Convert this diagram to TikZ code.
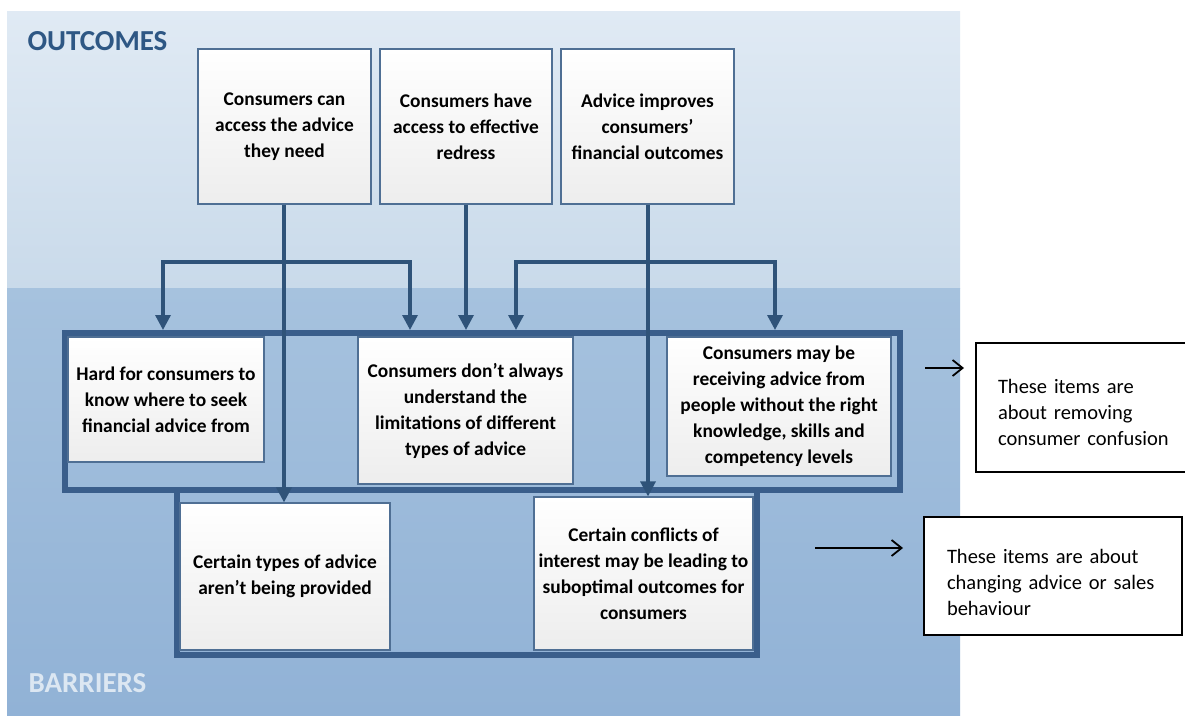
\documentclass[tikz,border=0pt]{standalone}
\usepackage{fontspec}
\setmainfont{Carlito}
\newfontfamily\notefont[WordSpace=0.8]{Carlito}
\usetikzlibrary{arrows.meta}
\definecolor{topA}{HTML}{E0EAF4}
\definecolor{topB}{HTML}{C9DAEA}
\definecolor{botA}{HTML}{A6C2DE}
\definecolor{botB}{HTML}{91B2D6}
\definecolor{frameC}{HTML}{3A5E8B}
\definecolor{lineC}{HTML}{2F5379}
\definecolor{boxE}{HTML}{4F6F94}
\definecolor{outC}{HTML}{2E5784}
\definecolor{barC}{HTML}{DCE7F2}
\begin{document}
\begin{tikzpicture}[x=1pt,y=-1pt,
  obox/.style={draw=boxE, line width=1.2pt, top color=white, bottom color=black!7,
    align=center, font=\fontsize{19.4}{26}\selectfont\bfseries, inner sep=0pt},
  framebox/.style={draw=frameC, line width=5.5pt, inner sep=0pt},
  notebox/.style={draw=black, line width=1.8pt, fill=white, align=left,
    font=\notefont\fontsize{20.5}{26}\selectfont, inner ysep=0pt},
  arr/.style={draw=lineC, line width=3.3pt, -{Triangle[width=15pt,length=15pt]}},
  rarr/.style={draw=black, line width=1.8pt, -{Straight Barb[width=16pt,length=10pt,line width=1.8pt]}},
  title/.style={font=\fontsize{29}{32}\selectfont\bfseries, anchor=west}
]
\clip (0,0) rectangle (1185,715);
\useasboundingbox (0,0) rectangle (1185,715);
\fill[white] (0,0) rectangle (1185,715);
% panels
\fill[top color=topA, bottom color=topB] (7,11) rectangle (960,288);
\fill[top color=botA, bottom color=botB] (7,288) rectangle (960,715);
\node[title, text=outC] (outc) at (24,41) {OUTCOMES};
\node[title, text=barC] (barr) at (25,683) {BARRIERS};

% frames
\node[framebox, minimum width=835pt, minimum height=157pt] (f1) at (482.5,411.5) {};
\node[framebox, minimum width=580pt, minimum height=165pt] (f2) at (467,572.5) {};

% outcome boxes
\node[obox, minimum width=173pt, minimum height=155pt] (o1) at (284.5,126.5)
  {Consumers can\\access the advice\\they need};
\node[obox, minimum width=172pt, minimum height=155pt] (o2) at (466,126.5)
  {Consumers have\\access to effective\\redress};
\node[obox, minimum width=173pt, minimum height=155pt] (o3) at (647.5,126.5)
  {Advice improves\\consumers'\\financial outcomes};

% barrier boxes
\node[obox, minimum width=196pt, minimum height=125pt] (b1) at (166,399.5)
  {Hard for consumers to\\know where to seek\\financial advice from};
\node[obox, minimum width=215pt, minimum height=147pt] (b2) at (465.5,410.5)
  {Consumers don't always\\understand the\\limitations of different\\types of advice};
\node[obox, minimum width=224pt, minimum height=139pt] (b3) at (779,406.5)
  {Consumers may be\\receiving advice from\\people without the right\\knowledge, skills and\\competency levels};
\node[obox, minimum width=210pt, minimum height=147pt] (b4) at (285,576.5)
  {Certain types of advice\\aren't being provided};
\node[obox, minimum width=219pt, minimum height=153pt] (b5) at (643.5,573.5)
  {Certain conflicts of\\interest may be leading to\\suboptimal outcomes for\\consumers};

% note boxes
\node[notebox, text width=195pt, inner xsep=22pt, minimum height=129pt] (r1) at (1095.5,407.5)
  {\rule{0pt}{25pt}These items are\\about removing\\consumer confusion};
\node[notebox, text width=212pt, inner xsep=23pt, minimum height=118pt] (r2) at (1053,576)
  {\rule{0pt}{27pt}These items are about\\changing advice or sales\\behaviour};

% junction coordinates
\coordinate (h1) at (284,262);
\coordinate (h3) at (648,262);
\coordinate (t1) at (163,330);
\coordinate (t2) at (410,330);
\coordinate (t3) at (466,330);
\coordinate (t4) at (516,330);
\coordinate (t5) at (775,330);
\coordinate (a1s) at (925,368);
\coordinate (a1e) at (964,368);
\coordinate (a2s) at (815,548);
\coordinate (a2e) at (903,548);

% connectors
\draw[arr] (h1) -| (t1);
\draw[arr] (h1) -| (t2);
\draw[arr] (o1.south -| h1) -- (h1 |- b4.north);
\draw[arr] (o2.south) -- (t3);
\draw[arr] (h3) -| (t4);
\draw[arr] (h3) -| (t5);
\draw[arr] (o3.south -| h3) -- (h3 |- b5.north);

\draw[rarr] (a1s) -- (a1e);
\draw[rarr] (a2s) -- (a2e);
\end{tikzpicture}
\end{document}
